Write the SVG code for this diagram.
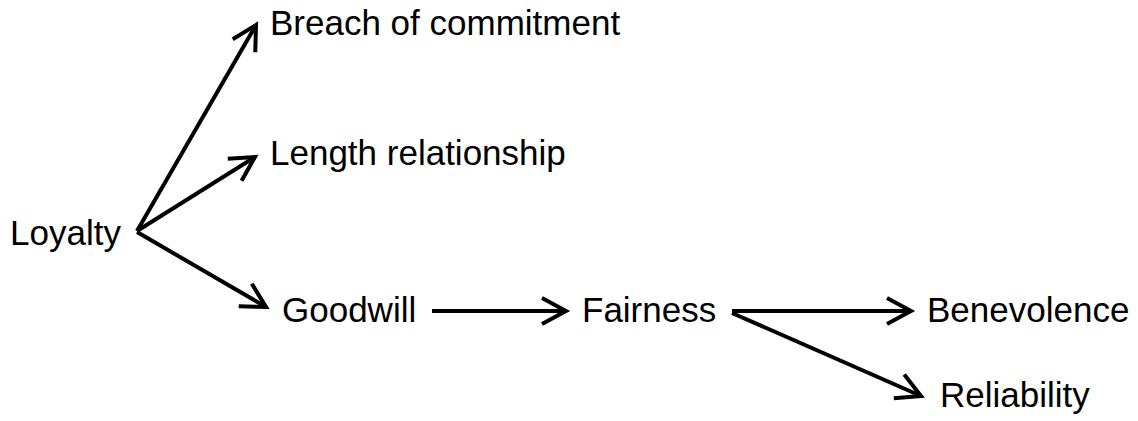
<svg xmlns="http://www.w3.org/2000/svg" width="1138" height="421" viewBox="0 0 1138 421">
  <defs>
    <style>
      .label { font-family: "Liberation Sans", Arial, sans-serif; font-size: 35px; fill: #000; }
      .edge { stroke: #000; stroke-width: 4; fill: none; marker-end: url(#head); }
    </style>
    <marker id="head" markerUnits="userSpaceOnUse" viewBox="-4 -4 34 34" markerWidth="34" markerHeight="34" refX="24" refY="13" orient="auto">
      <path d="M0,0 L24,13 L0,26" fill="none" stroke="#000" stroke-width="4" stroke-linejoin="miter"/>
    </marker>
  </defs>
  <rect width="1138" height="421" fill="#fff"/>

  <g id="connectors">
    <line class="edge" x1="137" y1="231" x2="256" y2="25"/>
    <line class="edge" x1="137" y1="231" x2="255" y2="157"/>
    <line class="edge" x1="137" y1="232" x2="266" y2="307"/>
    <line class="edge" x1="432" y1="311" x2="566" y2="311"/>
    <line class="edge" x1="732" y1="311" x2="911" y2="311"/>
    <line class="edge" x1="732" y1="313" x2="921" y2="396"/>
  </g>

  <g id="loyalty"><text class="label" x="10" y="245">Loyalty</text></g>
  <g id="breach"><text class="label" x="270" y="35">Breach of commitment</text></g>
  <g id="length"><text class="label" x="270" y="165">Length relationship</text></g>
  <g id="goodwill"><text class="label" x="282" y="322">Goodwill</text></g>
  <g id="fairness"><text class="label" x="582" y="322">Fairness</text></g>
  <g id="benevolence"><text class="label" x="927" y="322">Benevolence</text></g>
  <g id="reliability"><text class="label" x="940" y="407">Reliability</text></g>
</svg>
